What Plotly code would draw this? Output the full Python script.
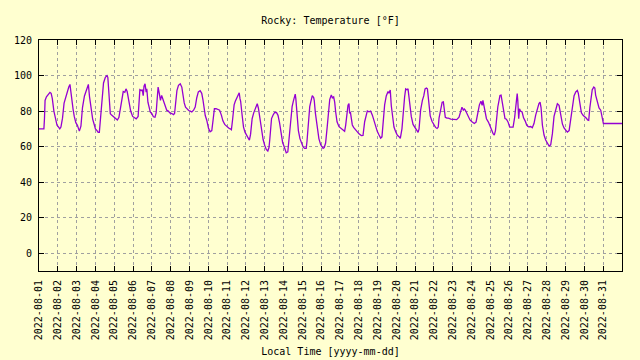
import plotly.graph_objects as go

# Sample times (day-of-August 2022, HH:MM) and temperatures [°F]
times = [
    "01 00:00","01 06:15","01 07:00","01 07:45","01 09:30","01 12:00","01 14:00","01 15:30","01 17:00","01 19:00","01 21:00","01 23:00",
    "02 01:00","02 02:30","02 04:00","02 06:00","02 08:00","02 10:00","02 12:00","02 14:00","02 15:30","02 16:30","02 18:00","02 19:30","02 21:00","02 23:00",
    "03 01:00","03 03:30","03 05:30","03 07:30","03 10:00","03 12:00","03 14:00","03 15:00","03 16:30","03 18:30","03 20:30","03 22:45",
    "04 00:00","04 02:00","04 03:30","04 05:00","04 06:40","04 08:30","04 10:20","04 12:40","04 14:45","04 15:50","04 16:40","04 17:40","04 19:00","04 21:00","04 23:30",
    "05 01:30","05 04:00","05 06:00","05 07:30","05 09:00","05 10:30","05 11:30","05 13:30","05 15:00","05 16:30","05 17:30","05 19:00","05 21:00","05 23:30",
    "06 01:00","06 04:00","06 06:30","06 07:15","06 08:45","06 10:30","06 12:00","06 12:30","06 13:00","06 14:00","06 15:20","06 16:45","06 17:35","06 19:00","06 20:30","06 22:00",
    "07 00:00","07 02:00","07 04:00","07 05:30","07 06:30","07 08:00","07 09:30","07 11:00","07 12:30","07 14:00","07 15:30","07 17:30","07 19:00","07 21:00","07 23:00",
    "08 01:30","08 03:40","08 05:00","08 06:20","08 08:00","08 10:00","08 12:15","08 14:15","08 15:35","08 17:20","08 19:00","08 21:00","08 23:00",
    "09 01:00","09 03:00","09 05:15","09 07:20","09 09:20","09 11:20","09 13:40","09 15:40","09 17:10","09 18:50","09 20:10","09 22:00",
    "10 00:20","10 02:20","10 04:30","10 06:10","10 07:50","10 10:00","10 12:00","10 14:30","10 16:50","10 18:40","10 21:00","10 23:30",
    "11 02:00","11 04:00","11 05:30","11 07:00","11 08:00","11 09:00","11 10:30","11 12:30","11 14:30","11 15:30","11 16:30","11 17:20","11 19:00","11 21:00","11 23:00",
    "12 00:30","12 02:30","12 04:30","12 06:00","12 08:00","12 10:00","12 12:00","12 14:30","12 16:00","12 17:30","12 18:40","12 20:00","12 22:00",
    "13 00:00","13 02:00","13 04:00","13 05:30","13 06:30","13 07:45","13 08:45","13 10:45","13 12:45","13 15:00","13 17:00","13 19:00","13 21:00","13 23:00",
    "14 00:00","14 01:30","14 03:30","14 05:30","14 07:30","14 09:00","14 11:00","14 12:30","14 14:00","14 15:00","14 15:45","14 17:00","14 19:00","14 21:00","14 23:00",
    "15 01:00","15 03:00","15 05:00","15 06:00","15 07:00","15 08:30","15 09:30","15 10:45","15 12:00","15 12:45","15 14:30","15 15:15","15 16:40","15 18:45","15 21:10","15 23:30",
    "16 02:30","16 04:00","16 05:45","16 07:45","16 10:00","16 11:00","16 13:00","16 14:20","16 16:00","16 17:20","16 18:35","16 20:20","16 22:50",
    "17 01:50","17 03:55","17 06:00","17 07:20","17 09:00","17 10:20","17 11:35","17 12:25","17 13:20","17 14:35","17 15:50","17 17:30","17 19:40","17 21:50",
    "18 00:20","18 03:20","18 05:30","18 07:35","18 09:40","18 11:00","18 13:05","18 15:10","18 17:25","18 19:30","18 21:35","18 23:40",
    "19 01:55","19 04:00","19 05:40","19 07:00","19 09:05","19 11:10","19 13:25","19 14:35","19 16:15","19 17:35","19 18:55","19 21:00","19 23:10",
    "20 01:20","20 03:25","20 05:05","20 07:10","20 08:30","20 10:35","20 11:55","20 13:35","20 14:55","20 17:00","20 19:05","20 21:20","20 23:30",
    "21 02:00","21 03:45","21 05:00","21 07:00","21 09:15","21 11:00","21 12:40","21 14:20","21 15:40","21 17:20","21 19:15","21 21:30","21 23:30",
    "22 02:00","22 04:00","22 05:30","22 06:30","22 08:00","22 09:00","22 10:30","22 12:00","22 13:00","22 14:30","22 16:30","22 18:30","22 21:30",
    "23 02:00","23 05:00","23 08:00","23 10:30","23 11:45","23 13:30","23 14:45","23 16:00","23 18:00","23 20:00","23 22:00",
    "24 00:30","24 03:30","24 05:45","24 08:00","24 10:00","24 12:00","24 13:30","24 14:30","24 15:40","24 17:00","24 19:00","24 21:30","24 23:30",
    "25 01:40","25 03:30","25 05:00","25 06:30","25 08:00","25 09:30","25 10:40","25 12:15","25 13:40","25 15:00","25 16:35","25 18:40","25 20:30","25 22:30",
    "26 00:40","26 05:00","26 07:00","26 09:00","26 10:15","26 11:00","26 12:10","26 13:10","26 14:30","26 16:30","26 18:20","26 20:20","26 22:30",
    "27 01:00","27 03:30","27 05:30","27 07:40","27 09:50","27 12:00","27 14:00","27 15:25","27 16:40","27 18:25","27 20:30","27 22:35",
    "28 00:45","28 02:55","28 05:00","28 07:10","28 09:15","28 11:25","28 13:30","28 15:40","28 17:50","28 19:55","28 22:00",
    "29 00:00","29 02:15","29 04:30","29 06:30","29 08:40","29 10:50","29 13:00","29 15:00","29 16:15","29 18:00","29 20:10","29 22:20",
    "30 00:20","30 02:30","30 04:00","30 05:30","30 07:00","30 08:30","30 10:00","30 12:00","30 13:20","30 14:20","30 16:30","30 18:40","30 20:50","30 23:00",
    "31 00:15","31 23:59",
]

temps_f = [
    70,70,76,86,88,89.5,90.5,90,87,80,75,72,
    71,70,71,76,84.5,88,90.7,93.5,95,91,85,81,77,73.5,
    72,68.7,71.5,82,88.5,91,93.5,95,88,81,75.5,72,
    70,69,68,68,78.5,88.7,95.8,99,100,99,92,82,78.5,77.6,76.7,
    75.8,75,76.5,81,86,89,91,90.6,92.5,91,88,84.5,80,77,
    76.5,75.6,77,82,92,91.5,92,90,88.7,94,95.3,90.7,92.5,85,82,79.5,
    78.5,76.8,76.6,79,85,93.5,90,86,88.8,87,85,83,80.5,80,79,
    78.6,78,78.6,84,91.5,94.5,95.3,93.5,88.3,84.6,82.2,81,80.3,
    80,79.5,80.5,82.3,87.5,90.8,91.5,90,86.5,81,77.5,75,
    70.3,68.3,69,75,81.3,81.3,81,80.5,77.6,74.5,72.5,71.2,
    70.5,70,69.5,75,80,83.5,85.5,87.5,89.7,90.3,87,85.5,78.5,71,68,
    67,65.4,63.6,67,75.7,79,81,84.1,81.6,77.5,75,69,64,
    60.8,58.4,57.5,59.5,64,74,75.8,77.8,79.2,79.2,77.6,73.3,67,62,
    61,58.5,56.5,57,66,76,82.5,85.5,87.5,89.5,87,77.7,69,64.5,61.5,
    59.8,59,59,63,70,79.5,82.5,85,88,88.7,87.6,86,79,70.5,64.5,61,
    59,59.5,62,71,83.5,86.5,89,87.5,88,85,79.5,74,71.2,
    70.2,69.3,68.6,72,80.5,83.3,84.2,78.6,79.5,75,72.2,70.8,69.5,68.6,
    67.2,66.2,66.3,74,78.8,80.1,79.6,80,77.7,74.2,71.5,68.6,
    66.5,64.8,65.5,73,83.5,88.5,91,90,91.8,83,77.5,71,68.4,
    66.4,65.6,64.6,70,79.5,88,92.5,92,92.5,83.2,77,72.5,71,
    69.5,68,70,80.5,86,88.5,92.5,93,92.5,83.5,77.3,74.3,72.3,
    70.8,70.2,71,76,80,83.5,85,85.2,80,76.5,76,76,75.5,
    75.4,75.2,76.6,81.5,82.2,80.6,81.2,80.6,78.6,76.6,75,
    74,73,73.8,79,83.5,85.5,83.2,86,83.2,79.5,75.7,73.8,71,
    69.3,67.3,66.5,69,76.7,82.3,85,88.8,89,85,79.5,75.8,75.4,73.9,
    71,71,76.5,86.5,89.8,86,75.7,81.3,80,79.5,76.2,74.5,72,
    71.1,71.3,70.6,73,77.7,81.4,84.2,85,82,72,66.5,63.7,
    61.7,60.3,61,67.3,77,81.7,84.1,83.2,78,72.8,70.5,
    69.5,68.2,69,74.8,82.2,88.7,90.8,91.6,90,83.5,79,77.6,
    77,76,75,74.8,82,88,92,93.5,93,89,85.5,81.8,80.5,76.7,
    73,73,
]

# Daily tick labels on the time axis
tick_days = ["2022-08-%02d" % d for d in range(1, 32)]
y_ticks = [0, 20, 40, 60, 80, 100, 120]

title_text = "Rocky: Temperature [°F]"
x_title = "Local Time [yyyy-mm-dd]"
x_start = "2022-08-01 00:00"
x_end = "2022-08-31 23:59"

timestamps = ["2022-08-" + t for t in times]

BG = "#ffffd0"
FONT = "DejaVu Sans Mono"
GRID = "#a0a0a0"

fig = go.Figure(
    go.Scatter(
        x=timestamps, y=temps_f, mode="lines",
        line=dict(color="#9400d3", width=1.3),
        showlegend=False,
    )
)

fig.update_layout(
    width=640, height=360,
    paper_bgcolor=BG, plot_bgcolor=BG,
    margin=dict(l=39, r=18, t=40, b=89, autoexpand=False),
    font=dict(family=FONT, size=10, color="black"),
    title=dict(text=title_text, x=0.5, xref="paper", xanchor="center",
               y=1 - 20 / 360, yref="container", yanchor="middle",
               automargin=False,
               font=dict(family=FONT, size=10, color="black")),
    showlegend=False,
)

fig.update_xaxes(
    type="date", range=[x_start, x_end], automargin=False,
    tickmode="array", tickvals=tick_days, ticktext=tick_days,
    tickangle=-90, ticks="inside", ticklen=5, tickcolor="black",
    showline=True, linecolor="black", linewidth=1, mirror="ticks",
    showgrid=True, gridcolor=GRID, gridwidth=1, griddash="3px,3px",
    zeroline=False, ticklabelstandoff=4,
    title=dict(text=x_title, standoff=8, font=dict(family=FONT, size=10)),
)

fig.update_yaxes(
    range=[-10, 120], automargin=False,
    tickmode="array", tickvals=y_ticks,
    ticks="inside", ticklen=5, tickcolor="black",
    showline=True, linecolor="black", linewidth=1, mirror="ticks",
    showgrid=True, gridcolor=GRID, gridwidth=1, griddash="3px,3px",
    zeroline=False, ticklabelstandoff=4,
)

fig.write_html(
    "out.html",
    config={"displayModeBar": False},
    post_script="document.body.style.margin='0';document.body.style.padding='0';"
                "document.body.style.overflow='hidden';"
                "document.body.style.background='" + BG + "';",
)
